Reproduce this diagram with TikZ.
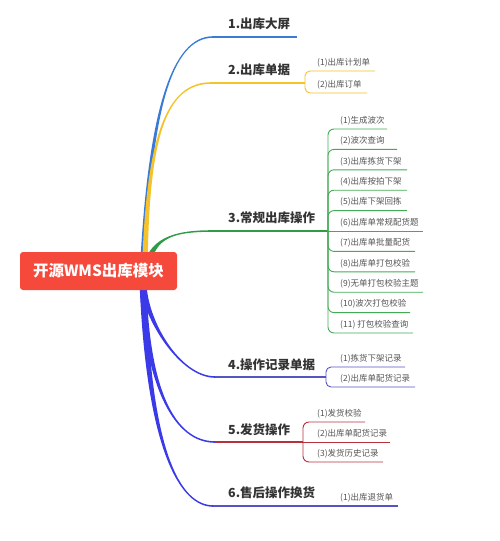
\documentclass[tikz,border=0pt]{standalone}
\usepackage{fontspec}
\setmainfont{Noto Sans CJK SC}
\definecolor{cblue}{HTML}{3B7BD8}
\definecolor{cyel}{HTML}{F4C22B}
\definecolor{cgreen}{HTML}{2E9B46}
\definecolor{cgreenl}{HTML}{44AA55}
\definecolor{cpur}{HTML}{3A3AE8}
\definecolor{cpurl}{HTML}{5454C4}
\definecolor{cred}{HTML}{B8303C}
\definecolor{croot}{HTML}{F4493B}
\definecolor{ctext}{HTML}{333333}
\definecolor{csub}{HTML}{555555}
\def\tw{2.5}
\def\ts{-0.8}
\newcommand\taper[9]{\fill[#1] ({#2-\tw},#3) .. controls ({#4-\tw*0.5},#5) and (#6,{#7+(\ts)}) .. (#8,{#9+(\ts)}) -- (#8,{#9-(\ts)}) .. controls (#6,{#7-(\ts)}) and ({#4+\tw*0.5},#5) .. ({#2+\tw},#3) -- cycle;}
\tikzset{
  mainlbl/.style={anchor=west, inner sep=0pt, text=ctext, font=\fontsize{12.5}{14}\selectfont\bfseries},
  subtxt/.style={anchor=west, inner sep=0pt, text=csub, font=\fontsize{8.5}{10}\selectfont},
  hline/.style={line width=1.5pt},
  subline/.style={line width=0.9pt, rounded corners=6pt},
  subline2/.style={line width=0.9pt, rounded corners=5pt},
}
\begin{document}
\begin{tikzpicture}[x=1pt,y=-1pt]
\useasboundingbox (0,0) rectangle (500,541);
% ---------- main branches (tapered) ----------
\def\tw{2.7}\def\ts{-0.8}
\taper{cblue}{143}{262}{150}{110}{172}{37}{213}{37}
\taper{cyel}{145}{262}{148}{140}{165}{83}{211}{83}
\def\tw{3.6}
\taper{cgreen}{148}{262}{155}{236}{178}{231}{213}{231}
\def\ts{0.8}\def\tw{3.5}
\taper{cpur}{143}{282}{145}{320}{180}{377}{215}{377}
\taper{cpur}{143}{282}{147}{390}{175}{442}{215}{442}
\taper{cpur}{143}{282}{148}{450}{180}{506}{213}{506}
% ---------- root ----------
\node[fill=croot, rounded corners=3pt, minimum width=157pt, minimum height=38pt, inner sep=0pt,
      text=white, font=\fontsize{15.5}{18}\selectfont\bfseries] (root) at (98.5,271) {开源WMS出库模块};
% ---------- branch 1 ----------
\coordinate (s1) at (213,37);
\coordinate (e1) at (297,37);
\draw[hline, cblue] (s1) -- (e1);
\node[mainlbl] (L1) at (228,24) {1.出库大屏};
% ---------- branch 2 ----------
\coordinate (s2) at (211,83);
\coordinate (j2) at (305,83);
\draw[hline, cyel] (s2) -- (j2);
\draw[subline2, cyel] (j2) -- (305,71) -- (375,71);
\draw[subline2, cyel] (j2) -- (305,93) -- (367,93);
\node[mainlbl] (L2) at (228,70) {2.出库单据};
\node[subtxt] (b2c1) at (317,63) {(1)出库计划单};
\node[subtxt] (b2c2) at (317,85) {(2)出库订单};
% ---------- branch 3 ----------
\coordinate (s3) at (213,231);
\coordinate (j3) at (328,231);
\draw[hline, cgreen] (s3) -- (j3);
\draw[line width=0.9pt, cgreenl] (j3) -- (423,231);
\foreach \i/\e in {1/387,2/397,3/407,4/407,5/407,7/415,8/415,9/423,10/410,11/413}{
  \pgfmathsetmacro\yy{129+20.4*(\i-1)}
  \draw[subline, cgreenl] (j3) -- (328,\yy) -- (\e,\yy);
}
\node[mainlbl] (L3) at (228,218) {3.常规出库操作};
\foreach \i/\t in {1/(1)生成波次,2/(2)波次查询,3/(3)出库拣货下架,4/(4)出库按拍下架,5/(5)出库下架回拣,6/(6)出库单常规配货题,7/(7)出库单批量配货,8/(8)出库单打包校验,9/(9)无单打包校验主题,10/(10)波次打包校验,11/(11) 打包校验查询}{
  \pgfmathsetmacro\yy{129+20.4*(\i-1)-8.5}
  \node[subtxt] (b3c\i) at (340,\yy) {\t};
}
% ---------- branch 4 ----------
\coordinate (s4) at (215,377);
\coordinate (j4) at (326,377);
\draw[hline, cpurl] (s4) -- (j4);
\draw[subline2, cpurl] (j4) -- (326,367) -- (405,367);
\draw[subline2, cpurl] (j4) -- (326,387) -- (415,387);
\node[mainlbl] (L4) at (228,365) {4.操作记录单据};
\node[subtxt] (b4c1) at (340,359) {(1)拣货下架记录};
\node[subtxt] (b4c2) at (340,379) {(2)出库单配货记录};
% ---------- branch 5 ----------
\coordinate (s5) at (215,442);
\coordinate (j5) at (303,442);
\draw[hline, cred] (s5) -- (j5);
\draw[line width=0.9pt, cred] (j5) -- (390,442);
\draw[subline, cred] (j5) -- (303,422) -- (365,422);
\draw[subline, cred] (j5) -- (303,462) -- (383,462);
\node[mainlbl] (L5) at (228,430) {5.发货操作};
\node[subtxt] (b5c1) at (317,414) {(1)发货校验};
\node[subtxt] (b5c2) at (317,434) {(2)出库单配货记录};
\node[subtxt] (b5c3) at (317,454) {(3)发货历史记录};
% ---------- branch 6 ----------
\coordinate (s6) at (213,506);
\coordinate (e6) at (398,506);
\draw[hline, cpurl] (s6) -- (e6);
\node[mainlbl] (L6) at (228,493) {6.售后操作换货};
\node[subtxt] (b6c1) at (340,498) {(1)出库退货单};
\end{tikzpicture}
\end{document}
